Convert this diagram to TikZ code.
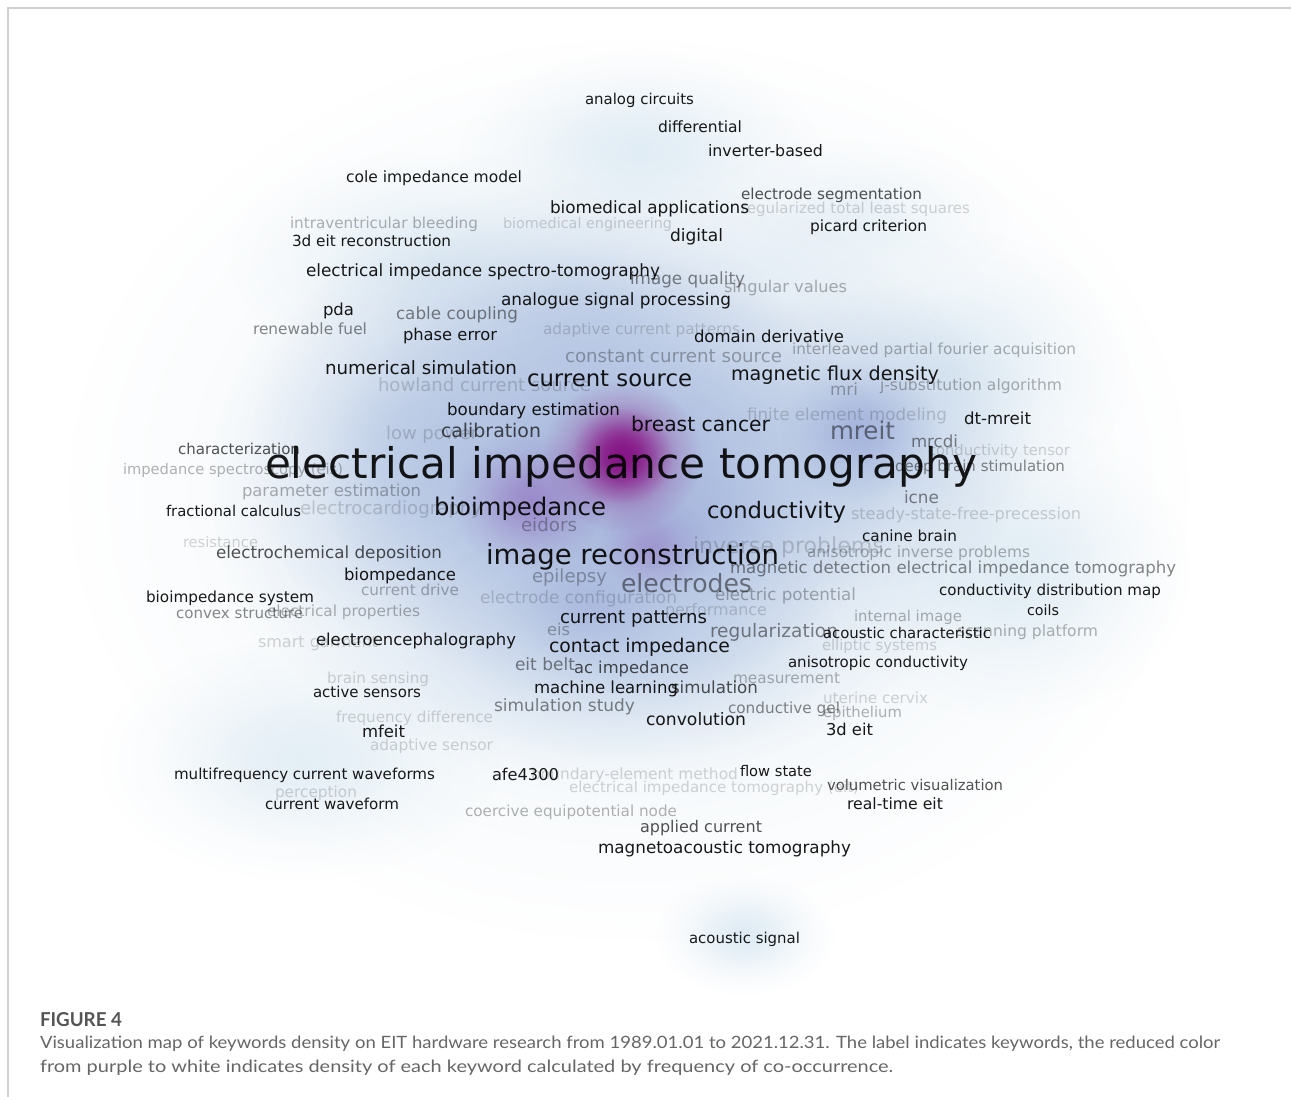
\documentclass[tikz,border=0pt]{standalone}
\usepackage{fontspec}
\setmainfont{DejaVu Sans}
\newfontfamily\capfont{Lato}
\usetikzlibrary{fadings}
\pgfdeclareradialshading{gblobshade}{\pgfpointorigin}{color(0bp)=(white); color(6bp)=(white!82!black); color(12bp)=(white!48!black); color(18bp)=(white!20!black); color(25bp)=(black); color(50bp)=(black)}
\pgfdeclarefading{gblob}{\pgfuseshading{gblobshade}}
\definecolor{cpale}{rgb}{0.87,0.92,0.955}
\definecolor{cblue}{rgb}{0.71,0.78,0.895}
\definecolor{cdeep}{rgb}{0.64,0.70,0.86}
\definecolor{cviolet}{rgb}{0.58,0.46,0.76}
\definecolor{cpurple}{rgb}{0.53,0.08,0.52}
\definecolor{framecol}{gray}{0.82}
\definecolor{capgray}{gray}{0.33}
\definecolor{captext}{gray}{0.40}
\tikzset{
  blob/.style={path fading=gblob},
  kw/.style={inner sep=0pt, outer sep=0pt, text=black, anchor=base west},
  t1/.style={text opacity=0.9},
  t2/.style={text opacity=0.68},
  t3/.style={text opacity=0.47},
  t4/.style={text opacity=0.30},
  t5/.style={text opacity=0.17},
}
\newcommand\bl[6]{\fill[blob,#5,fill opacity=#6] (#1,#2) ellipse ({#3pt} and {#4pt});}
\newcommand\kw[6]{\node[kw,#5] (#1) at (#2,#3) {\resizebox{#4pt}{!}{#6}};}
\begin{document}
\begin{tikzpicture}[x=1pt,y=-1pt]
\useasboundingbox (0,0) rectangle (1291,1097);
\fill[white] (0,0) rectangle (1291,1097);
% density cloud: pale layer
\bl{630}{490}{560}{450}{cpale}{1}
\bl{745}{935}{90}{60}{cpale}{1}
\bl{300}{760}{200}{120}{cpale}{0.8}
\bl{1010}{570}{180}{150}{cpale}{0.9}
\bl{950}{370}{180}{140}{cpale}{0.9}
\bl{640}{150}{180}{100}{cpale}{0.9}
\bl{430}{260}{200}{110}{cpale}{0.8}
\bl{850}{220}{160}{80}{cpale}{0.6}
% blue layer
\bl{610}{480}{400}{300}{cblue}{1}
\bl{430}{450}{180}{200}{cblue}{0.7}
\bl{860}{440}{180}{150}{cblue}{0.7}
\bl{620}{640}{220}{120}{cblue}{0.6}
\bl{580}{320}{200}{110}{cblue}{0.6}
\bl{610}{480}{280}{220}{cdeep}{0.7}
% deeper spots
\bl{860}{430}{80}{70}{cdeep}{0.9}
\bl{530}{500}{80}{70}{cviolet}{0.7}
\bl{655}{545}{60}{50}{cviolet}{0.6}
\bl{590}{605}{90}{60}{cdeep}{0.6}
\bl{700}{530}{90}{70}{cdeep}{0.5}
% purple hotspot
\bl{622}{456}{80}{76}{cpurple}{0.8}
\bl{622}{456}{50}{48}{cpurple}{1}
% frame
\draw[framecol, line width=1.5pt] (8,1097) -- (8,8) -- (1291,8);
% very light labels
\kw{e1}{741}{214}{229}{t5}{regularized total least squares}
\kw{e2}{503}{228}{169}{t5}{biomedical engineering}
\kw{e3}{543}{334}{197}{t5}{adaptive current patterns}
\kw{e4}{378}{391}{213}{t5}{howland current source}
\kw{e5}{747}{420}{200}{t5}{finite element modeling}
\kw{e6}{386}{439}{92}{t5}{low power}
\kw{e7}{928}{455}{142}{t5}{conductivity tensor}
\kw{e8}{300}{514}{182}{t5}{electrocardiography}
\kw{e9}{851}{519}{230}{t5}{steady-state-free-precession}
\kw{e10}{183}{547}{75}{t5}{resistance}
\kw{e11}{693}{553}{191}{t5}{inverse problems}
\kw{e12}{480}{603}{197}{t5}{electrode configuration}
\kw{e13}{665}{615}{102}{t5}{performance}
\kw{e14}{258}{647}{120}{t5}{smart garment}
\kw{e15}{822}{650}{115}{t5}{elliptic systems}
\kw{e16}{327}{683}{102}{t5}{brain sensing}
\kw{e17}{823}{703}{105}{t5}{uterine cervix}
\kw{e18}{336}{722}{157}{t5}{frequency difference}
\kw{e19}{370}{750}{123}{t5}{adaptive sensor}
\kw{e20}{531}{779}{207}{t5}{boundary-element method}
\kw{e21}{569}{792}{290}{t5}{electrical impedance tomography (eit)}
\kw{e22}{275}{797}{82}{t5}{perception}
% light gray labels
\kw{d1}{290}{229}{188}{t4}{intraventricular bleeding}
\kw{d2}{724}{292}{123}{t4}{singular values}
\kw{d3}{792}{354}{284}{t4}{interleaved partial fourier acquisition}
\kw{d4}{565}{362}{217}{t4}{constant current source}
\kw{d5}{830}{395}{28}{t4}{mri}
\kw{d6}{880}{390}{182}{t4}{j-substitution algorithm}
\kw{d7}{123}{474}{220}{t4}{impedance spectroscopy (eis)}
\kw{d8}{242}{496}{179}{t4}{parameter estimation}
\kw{d9}{521}{531}{56}{t4}{eidors}
\kw{d10}{807}{557}{223}{t4}{anisotropic inverse problems}
\kw{d11}{532}{582}{75}{t4}{epilepsy}
\kw{d12}{361}{595}{98}{t4}{current drive}
\kw{d13}{715}{600}{141}{t4}{electric potential}
\kw{d14}{267}{616}{153}{t4}{electrical properties}
\kw{d15}{854}{621}{108}{t4}{internal image}
\kw{d16}{957}{636}{141}{t4}{scanning platform}
\kw{d17}{547}{635}{23}{t4}{eis}
\kw{d18}{733}{683}{107}{t4}{measurement}
\kw{d19}{823}{717}{79}{t4}{epithelium}
\kw{d20}{465}{816}{212}{t4}{coercive equipotential node}
% medium gray labels
\kw{c1}{630}{284}{115}{t3}{image quality}
\kw{c2}{396}{319}{122}{t3}{cable coupling}
\kw{c3}{253}{334}{114}{t3}{renewable fuel}
\kw{c4}{830}{439}{65}{t3}{mreit}
\kw{c5}{911}{447}{47}{t3}{mrcdi}
\kw{c6}{895}{471}{170}{t3}{deep brain stimulation}
\kw{c7}{904}{503}{35}{t3}{icne}
\kw{c8}{730}{573}{446}{t3}{magnetic detection electrical impedance tomography}
\kw{c9}{621}{592}{131}{t3}{electrodes}
\kw{c10}{176}{618}{127}{t3}{convex structure}
\kw{c11}{710}{637}{128}{t3}{regularization}
\kw{c12}{515}{670}{60}{t3}{eit belt}
\kw{c13}{494}{711}{141}{t3}{simulation study}
\kw{c14}{728}{713}{112}{t3}{conductive gel}
% dark gray labels
\kw{b1}{741}{200}{181}{t2}{electrode segmentation}
\kw{b2}{441}{437}{100}{t2}{calibration}
\kw{b3}{178}{454}{122}{t2}{characterization}
\kw{b4}{216}{558}{226}{t2}{electrochemical deposition}
\kw{b5}{574}{673}{115}{t2}{ac impedance}
\kw{b6}{671}{693}{87}{t2}{simulation}
\kw{b7}{827}{790}{176}{t2}{volumetric visualization}
\kw{b8}{640}{832}{122}{t2}{applied current}
% black labels
\kw{a1}{585}{105}{109}{t1}{analog circuits}
\kw{a2}{658}{133}{84}{t1}{differential}
\kw{a3}{708}{157}{115}{t1}{inverter-based}
\kw{a4}{346}{183}{176}{t1}{cole impedance model}
\kw{a5}{550}{213}{199}{t1}{biomedical applications}
\kw{a6}{810}{231}{117}{t1}{picard criterion}
\kw{a7}{292}{246}{159}{t1}{3d eit reconstruction}
\kw{a8}{670}{241}{53}{t1}{digital}
\kw{a9}{306}{276}{354}{t1}{electrical impedance spectro-tomography}
\kw{a10}{501}{305}{230}{t1}{analogue signal processing}
\kw{a11}{323}{315}{31}{t1}{pda}
\kw{a12}{403}{340}{94}{t1}{phase error}
\kw{a13}{694}{342}{150}{t1}{domain derivative}
\kw{a14}{325}{374}{192}{t1}{numerical simulation}
\kw{a15}{527}{386}{165}{t1}{current source}
\kw{a16}{731}{380}{208}{t1}{magnetic flux density}
\kw{a17}{447}{415}{173}{t1}{boundary estimation}
\kw{a18}{964}{424}{67}{t1}{dt-mreit}
\kw{a19}{631}{431}{139}{t1}{breast cancer}
\kw{a20}{265}{478}{712}{t1}{electrical impedance tomography}
\kw{a21}{166}{516}{135}{t1}{fractional calculus}
\kw{a22}{434}{515}{172}{t1}{bioimpedance}
\kw{a23}{707}{518}{139}{t1}{conductivity}
\kw{a24}{862}{541}{95}{t1}{canine brain}
\kw{a25}{486}{564}{293}{t1}{image reconstruction}
\kw{a26}{344}{580}{112}{t1}{biompedance}
\kw{a27}{146}{602}{168}{t1}{bioimpedance system}
\kw{a28}{939}{595}{222}{t1}{conductivity distribution map}
\kw{a29}{560}{623}{147}{t1}{current patterns}
\kw{a30}{1027}{615}{32}{t1}{coils}
\kw{a31}{823}{638}{168}{t1}{acoustic characteristic}
\kw{a32}{316}{645}{200}{t1}{electroencephalography}
\kw{a33}{549}{652}{181}{t1}{contact impedance}
\kw{a34}{788}{667}{180}{t1}{anisotropic conductivity}
\kw{a35}{313}{697}{108}{t1}{active sensors}
\kw{a36}{534}{693}{144}{t1}{machine learning}
\kw{a37}{646}{725}{100}{t1}{convolution}
\kw{a38}{826}{735}{47}{t1}{3d eit}
\kw{a39}{362}{737}{43}{t1}{mfeit}
\kw{a40}{174}{779}{261}{t1}{multifrequency current waveforms}
\kw{a41}{492}{780}{67}{t1}{afe4300}
\kw{a42}{740}{776}{72}{t1}{flow state}
\kw{a43}{265}{809}{134}{t1}{current waveform}
\kw{a44}{847}{809}{96}{t1}{real-time eit}
\kw{a45}{598}{853}{253}{t1}{magnetoacoustic tomography}
\kw{a46}{689}{943}{111}{t1}{acoustic signal}
% caption
\node[kw, text=capgray] (fig) at (40,1026) {\resizebox{82pt}{14pt}{\capfont\bfseries FIGURE 4}};
\node[kw, text=captext] (cap1) at (40,1048) {\resizebox{1180pt}{12.5pt}{\capfont Visualization map of keywords density on EIT hardware research from 1989.01.01 to 2021.12.31. The label indicates keywords, the reduced color}};
\node[kw, text=captext] (cap2) at (40,1072) {\resizebox{853pt}{12.5pt}{\capfont from purple to white indicates density of each keyword calculated by frequency of co-occurrence.}};
\end{tikzpicture}
\end{document}
